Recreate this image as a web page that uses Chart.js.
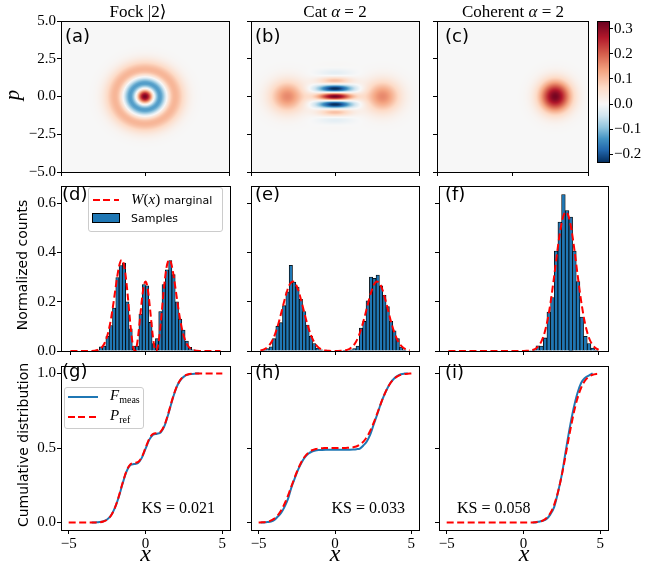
<!DOCTYPE html>
<html>
<head>
<meta charset="utf-8">
<script src="https://cdn.jsdelivr.net/npm/chart.js@4.4.1/dist/chart.umd.min.js"></script>
<style>
html,body{margin:0;padding:0;background:#fff;}
#fig{position:relative;width:647px;height:573px;background:#fff;overflow:hidden;}
#fig canvas{position:absolute;}
.t{position:absolute;white-space:nowrap;line-height:1;color:#000;}
.serif{font-family:'Liberation Serif','DejaVu Serif',serif;}
.sans{font-family:'DejaVu Sans','Liberation Sans',sans-serif;}
.box{position:absolute;box-sizing:border-box;}
</style>
</head>
<body>
<div id="fig"></div>
<script>
// ---------------- DATA ----------------
// Wigner-function profiles
const fockR = [0,0.1,0.2,0.3,0.4,0.5,0.6,0.7,0.8,0.9,1.0,1.1,1.2,1.3,1.4,1.5,1.6,1.7,1.8,1.9,2.0,2.1,2.2,2.3,2.4,2.5,2.6,2.7,2.8,2.9,3.0,3.2,3.4,3.6,3.8,4.0];
const fockW = [0.3183,0.3026,0.2579,0.1909,0.1115,0.0310,-0.0402,-0.0936,-0.1243,-0.1314,-0.1171,-0.0866,-0.0462,-0.0028,0.0378,0.0713,0.0951,0.1086,0.1126,0.1087,0.0991,0.0861,0.0717,0.0575,0.0445,0.0333,0.0241,0.0170,0.0116,0.0077,0.0050,0.0019,0.0007,0.0002,0.0001,0];
const lobeR = [0,0.1,0.2,0.3,0.4,0.5,0.6,0.7,0.8,0.9,1.0,1.1,1.2,1.3,1.4,1.5,1.6,1.7,1.8,1.9,2.0,2.2,2.4,2.6,3.0];
const cohW = [0.3183,0.3151,0.3058,0.2909,0.2712,0.2479,0.2221,0.1950,0.1678,0.1416,0.1171,0.0949,0.0754,0.0587,0.0448,0.0336,0.0246,0.0177,0.0125,0.0086,0.0058,0.0025,0.0010,0.0004,0];
const cohCenter = [2.83, 0];
const catLobeW = [0.1592,0.1576,0.1529,0.1455,0.1356,0.1240,0.1111,0.0975,0.0839,0.0708,0.0586,0.0475,0.0377,0.0294,0.0224,0.0168,0.0123,0.0089,0.0063,0.0043,0.0029,0.0013,0.0005,0.0002,0];
const catLobeCenters = [-2.83, 2.83];
const catFringeP = [0,0.05,0.1,0.15,0.2,0.25,0.3,0.35,0.4,0.45,0.5,0.55,0.6,0.65,0.7,0.75,0.8,0.85,0.9,0.95,1.0,1.05,1.1,1.15,1.2,1.25,1.3,1.35,1.4,1.45,1.5,1.55,1.6,1.65,1.7,1.75,1.8,1.85,1.9,1.95,2.0,2.1,2.2,2.3,2.4,2.5];
const catFringe = [0.3183,0.3049,0.2660,0.2057,0.1301,0.0466,-0.0367,-0.1120,-0.1728,-0.2149,-0.2358,-0.2350,-0.2151,-0.1793,-0.1335,-0.0828,-0.0315,0.0148,0.0524,0.0792,0.0949,0.0995,0.0948,0.0827,0.0657,0.0470,0.0282,0.0111,-0.0029,-0.0133,-0.0198,-0.0228,-0.0229,-0.0208,-0.0174,-0.0132,-0.0091,-0.0052,-0.0021,0.0001,0.0018,0.0030,0.0025,0.0014,0.0005,0];
const catEnvX = [0,0.1,0.2,0.3,0.4,0.5,0.6,0.7,0.8,0.9,1.0,1.1,1.2,1.3,1.4,1.5,1.6,1.7,1.8,1.9,2.0,2.2,2.4,2.6,3.0];
const catEnv = [1,0.990,0.961,0.914,0.852,0.779,0.698,0.613,0.527,0.445,0.368,0.298,0.237,0.185,0.141,0.105,0.077,0.056,0.039,0.027,0.018,0.008,0.003,0.001,0];
const cbRange = [-0.231, 0.331];

// Histograms (bin centres, normalized counts)
const fockHistX = [-3.19,-2.97,-2.75,-2.53,-2.31,-2.09,-1.87,-1.65,-1.43,-1.21,-0.99,-0.77,-0.55,-0.33,-0.11,0.11,0.33,0.55,0.77,0.99,1.21,1.43,1.65,1.87,2.09,2.31,2.53,2.75,2.97,3.19];
const fockHistY = [0.004,0.017,0.02,0.06,0.103,0.174,0.298,0.347,0.357,0.2,0.09,0.02,0.02,0.15,0.27,0.265,0.116,0.03,0.05,0.16,0.27,0.33,0.367,0.31,0.2,0.13,0.085,0.04,0.015,0.005];
const catHistX = [-4.752,-4.528,-4.304,-4.08,-3.856,-3.632,-3.408,-3.184,-2.96,-2.736,-2.512,-2.288,-2.064,-1.84,-1.616,-1.392,-1.168,-0.944,-0.72,-0.496,-0.272,-0.048,0.176,0.4,0.624,0.848,1.072,1.296,1.52,1.744,1.968,2.192,2.416,2.64,2.864,3.088,3.312,3.536,3.76,3.984,4.208,4.432,4.656];
const catHistY = [0.004,0.01,0.017,0.05,0.1,0.115,0.184,0.24,0.348,0.28,0.26,0.21,0.16,0.105,0.06,0.03,0.012,0.005,0.002,0.001,0,0,0,0,0.001,0.002,0.005,0.01,0.02,0.093,0.12,0.204,0.30,0.295,0.308,0.265,0.226,0.18,0.12,0.082,0.05,0.016,0.005];
const cohHistX = [0.464,0.708,0.952,1.196,1.44,1.684,1.928,2.172,2.416,2.66,2.904,3.148,3.392,3.636,3.88,4.124,4.368,4.612,4.856];
const cohHistY = [0.002,0.005,0.021,0.02,0.053,0.158,0.217,0.406,0.524,0.635,0.57,0.544,0.406,0.282,0.138,0.06,0.03,0.012,0.004];

// W(x) marginal curves
const fockMargX = [-5,-4.5,-4,-3.6,-3.4,-3.2,-3,-2.9,-2.8,-2.7,-2.6,-2.5,-2.4,-2.3,-2.2,-2.1,-2,-1.9,-1.8,-1.7,-1.6,-1.5,-1.4,-1.3,-1.2,-1.1,-1,-0.9,-0.8,-0.7,-0.6,-0.5,-0.4,-0.3,-0.2,-0.1,0,0.1,0.2,0.3,0.4,0.5,0.6,0.7,0.8,0.9,1,1.1,1.2,1.3,1.4,1.5,1.6,1.7,1.8,1.9,2,2.1,2.2,2.3,2.4,2.5,2.6,2.7,2.8,2.9,3,3.2,3.4,3.6,4,4.5,5];
const fockMargY = [0,0,0,0.0004,0.0013,0.0038,0.0101,0.0157,0.0239,0.0355,0.0513,0.0720,0.0984,0.1305,0.1680,0.2097,0.2532,0.2952,0.3317,0.3582,0.3701,0.3642,0.3389,0.2948,0.2362,0.1696,0.1038,0.0482,0.0117,0.0001,0.0154,0.0549,0.1111,0.1733,0.2294,0.2682,0.2821,0.2682,0.2294,0.1733,0.1111,0.0549,0.0154,0.0001,0.0117,0.0482,0.1038,0.1696,0.2362,0.2948,0.3389,0.3642,0.3701,0.3582,0.3317,0.2952,0.2532,0.2097,0.1680,0.1305,0.0984,0.0720,0.0513,0.0355,0.0239,0.0157,0.0101,0.0038,0.0013,0.0004,0,0,0];
const margX = [-5,-4.8,-4.6,-4.4,-4.2,-4,-3.8,-3.6,-3.4,-3.2,-3,-2.8,-2.6,-2.4,-2.2,-2,-1.8,-1.6,-1.4,-1.2,-1,-0.8,-0.6,-0.4,-0.2,0,0.2,0.4,0.6,0.8,1,1.2,1.4,1.6,1.8,2,2.2,2.4,2.6,2.8,3,3.2,3.4,3.6,3.8,4,4.2,4.4,4.6,4.8,5];
const catMargY = [0.0025,0.0058,0.0122,0.0238,0.0429,0.0714,0.1097,0.1554,0.2034,0.2457,0.2739,0.2819,0.2678,0.2349,0.1902,0.1421,0.0981,0.0625,0.0367,0.0199,0.0100,0.0046,0.0020,0.0008,0.0003,0.0002,0.0003,0.0008,0.0020,0.0046,0.0100,0.0199,0.0367,0.0625,0.0981,0.1421,0.1902,0.2349,0.2678,0.2819,0.2739,0.2457,0.2034,0.1554,0.1097,0.0714,0.0429,0.0238,0.0122,0.0058,0.0025];
const cohMargY = [0,0,0,0,0,0,0,0,0,0,0,0,0,0,0,0,0,0,0,0,0,0,0,0,0,0.0002,0.0006,0.0016,0.0039,0.0092,0.0200,0.0398,0.0734,0.1249,0.1961,0.2842,0.3803,0.4698,0.5356,0.5638,0.5477,0.4913,0.4068,0.3109,0.2194,0.1429,0.0859,0.0477,0.0244,0.0116,0.0050];

// Cumulative distributions
const cdfX = [-5,-4.75,-4.5,-4.25,-4,-3.75,-3.5,-3.25,-3,-2.75,-2.5,-2.25,-2,-1.75,-1.5,-1.25,-1,-0.75,-0.5,-0.25,0,0.25,0.5,0.75,1,1.25,1.5,1.75,2,2.25,2.5,2.75,3,3.25,3.5,3.75,4,4.25,4.5,4.75,5];
const fockRefCdf = [0,0,0,0,0,0,0,0.0005,0.002,0.007,0.019,0.046,0.096,0.172,0.262,0.343,0.389,0.400,0.405,0.437,0.5,0.563,0.595,0.600,0.611,0.657,0.738,0.828,0.904,0.954,0.981,0.993,0.998,0.9995,1,1,1,1,1,1,1];
const catRefCdf = [0.0005,0.0016,0.0045,0.0111,0.0244,0.0481,0.0855,0.1377,0.202,0.272,0.339,0.3965,0.4396,0.468,0.4849,0.4936,0.4976,0.4992,0.4998,0.5,0.5,0.5,0.5002,0.5008,0.5024,0.5064,0.5151,0.532,0.5604,0.6035,0.661,0.728,0.798,0.8623,0.9145,0.9519,0.9756,0.9889,0.9955,0.9984,0.9995];
const cohRefCdf = [0,0,0,0,0,0,0,0,0,0,0,0,0,0,0,0,0,0,0,0,0,0,0,0.0017,0.0049,0.0128,0.0302,0.0637,0.1208,0.207,0.3213,0.4562,0.596,0.7247,0.829,0.9039,0.9512,0.9778,0.991,0.9967,0.9989];
const fockMeasX = [-3.5,-3.25,-3,-2.75,-2.5,-2.25,-2,-1.75,-1.5,-1.25,-1,-0.75,-0.5,-0.25,0,0.25,0.5,0.75,1,1.25,1.5,1.75,2,2.25,2.5,2.75,3,3.25,3.5];
const fockMeasCdf = [0,0.001,0.003,0.008,0.02,0.047,0.097,0.168,0.258,0.338,0.384,0.392,0.398,0.432,0.494,0.556,0.59,0.596,0.606,0.651,0.732,0.824,0.902,0.952,0.979,0.992,0.997,0.999,1.0];
const catMeasX = [-4.864,-4.64,-4.416,-4.192,-3.968,-3.744,-3.52,-3.296,-3.072,-2.848,-2.624,-2.4,-2.176,-1.952,-1.728,-1.504,-1.28,-1.056,-0.832,-0.608,-0.384,0.512,0.736,0.96,1.184,1.408,1.632,1.856,2.08,2.304,2.528,2.752,2.976,3.2,3.424,3.648,3.872,4.096,4.32,4.544,4.768];
const catMeasCdf = [0,0.0009,0.0031,0.0069,0.018,0.0403,0.0659,0.1068,0.1602,0.2376,0.2999,0.3577,0.4045,0.440,0.4634,0.4768,0.4834,0.4861,0.4872,0.4877,0.4879,0.4879,0.4881,0.4886,0.4897,0.4919,0.4963,0.517,0.5437,0.589,0.656,0.7215,0.790,0.849,0.899,0.939,0.966,0.984,0.995,0.999,1.0];
const cohMeasX = [0.6,0.75,1.0,1.25,1.5,1.75,2.0,2.25,2.5,2.75,3.0,3.25,3.5,3.75,4.0,4.25,4.5];
const cohMeasCdf = [0,0.001,0.006,0.012,0.024,0.055,0.105,0.205,0.325,0.48,0.63,0.76,0.864,0.936,0.97,0.986,1.0];

// Tick values
const heatXTicks = [-5,0,5];
const heatYTicks = [-5,-2.5,0,2.5,5];
const xTicks = [-5,0,5];
const histYTicks = [0,0.2,0.4,0.6];
const cdfYTicks = [0,0.5,1];
const cbTicks = [-0.2,-0.1,0,0.1,0.2,0.3];
const ksValues = ['0.021','0.033','0.058'];

// ---------------- LAYOUT / STYLE ----------------
const AREAS = {
  a:{l:61,t:21,r:229,b:172}, b:{l:251,t:21,r:419,b:172}, c:{l:437,t:21,r:588,b:172},
  cb:{l:597,t:21,r:609,b:172},
  d:{l:61,t:180,r:230,b:351}, e:{l:251,t:180,r:419,b:351}, f:{l:439,t:180,r:608,b:351},
  g:{l:61,t:360,r:230,b:530}, h:{l:251,t:360,r:419,b:530}, i:{l:439,t:360,r:608,b:530}
};
const BLUE = '#1f77b4', RED = '#ff0000';
const RDBU_R = [[5,48,97],[33,102,172],[67,147,195],[146,197,222],[209,229,240],[247,247,247],[253,219,199],[244,165,130],[214,96,77],[178,24,43],[103,0,31]];

Chart.defaults.font.family = "'Liberation Serif','DejaVu Serif',serif";
Chart.defaults.font.size = 15;
Chart.defaults.color = '#000';

const fig = document.getElementById('fig');
const zip = (xs, ys) => xs.map((x, i) => ({x: x, y: ys[i]}));
const fmt = d => v => (v < 0 ? '\u2212' : '') + Math.abs(v).toFixed(d);

function interp(xs, ys, v) {
  const n = xs.length;
  if (v <= xs[0]) return ys[0];
  if (v >= xs[n-1]) return ys[n-1];
  let lo = 0, hi = n - 1;
  while (hi - lo > 1) { const m = (lo + hi) >> 1; if (xs[m] <= v) lo = m; else hi = m; }
  const t = (v - xs[lo]) / (xs[hi] - xs[lo]);
  return ys[lo] + t * (ys[hi] - ys[lo]);
}
// two-slope normalisation centred on zero
function colorFor(v) {
  let t = v < 0 ? 0.5 * (v - cbRange[0]) / (0 - cbRange[0]) : 0.5 + 0.5 * v / cbRange[1];
  t = Math.max(0, Math.min(1, t)) * 10;
  const i = Math.min(9, Math.floor(t)), f = t - i;
  const a = RDBU_R[i], b = RDBU_R[i+1];
  return [a[0]+(b[0]-a[0])*f, a[1]+(b[1]-a[1])*f, a[2]+(b[2]-a[2])*f];
}
const fockField = (x, p) => interp(fockR, fockW, Math.hypot(x, p));
const cohField = (x, p) => interp(lobeR, cohW, Math.hypot(x - cohCenter[0], p - cohCenter[1]));
const catField = (x, p) => {
  let s = 0;
  for (const cx of catLobeCenters) s += interp(lobeR, catLobeW, Math.hypot(x - cx, p));
  return s + interp(catEnvX, catEnv, Math.abs(x)) * interp(catFringeP, catFringe, Math.abs(p));
};

function heatPlugin(field) {
  return { id: 'heat', beforeDatasetsDraw(chart) {
    const a = chart.chartArea, xs = chart.scales.x, ys = chart.scales.y;
    const L = Math.round(a.left), T = Math.round(a.top);
    const w = Math.round(a.right) - L, h = Math.round(a.bottom) - T;
    const off = document.createElement('canvas'); off.width = w; off.height = h;
    const octx = off.getContext('2d'); const img = octx.createImageData(w, h);
    for (let j = 0; j < h; j++) {
      const p = ys.getValueForPixel(T + j + 0.5);
      for (let i = 0; i < w; i++) {
        const x = xs.getValueForPixel(L + i + 0.5);
        const c = colorFor(field(x, p)); const k = (j * w + i) * 4;
        img.data[k] = c[0]; img.data[k+1] = c[1]; img.data[k+2] = c[2]; img.data[k+3] = 255;
      }
    }
    octx.putImageData(img, 0, 0);
    chart.ctx.drawImage(off, L, T);
  }};
}
const colorbarPlugin = { id: 'cbar', beforeDatasetsDraw(chart) {
  const a = chart.chartArea, ys = chart.scales.y, ctx = chart.ctx;
  for (let y = Math.round(a.top); y < Math.round(a.bottom); y++) {
    const c = colorFor(ys.getValueForPixel(y + 0.5));
    ctx.fillStyle = 'rgb(' + c.map(Math.round).join(',') + ')';
    ctx.fillRect(a.left, y, a.right - a.left, 1);
  }
}};
const framePlugin = { id: 'frame', afterDraw(chart) {
  const a = chart.chartArea, ctx = chart.ctx;
  ctx.save(); ctx.strokeStyle = '#000'; ctx.lineWidth = 1;
  ctx.strokeRect(Math.round(a.left) + 0.5, Math.round(a.top) + 0.5, Math.round(a.right - a.left), Math.round(a.bottom - a.top));
  ctx.restore();
}};

function axis(min, max, ticks, size, labelFmt, extra) {
  return Object.assign({
    type: 'linear', min: min, max: max, offset: false,
    afterBuildTicks: ax => { ax.ticks = ticks.map(v => ({value: v})); },
    afterFit: ax => { if (ax.isHorizontal()) ax.height = size; else ax.width = size; },
    grid: { display: true, drawOnChartArea: false, drawTicks: true, tickLength: 4, tickColor: '#000', tickWidth: 1, color: '#000', offset: false },
    border: { display: false },
    ticks: { autoSkip: false, maxRotation: 0, minRotation: 0, padding: 1, color: '#000',
             callback: labelFmt ? (v => labelFmt(v)) : (() => '') }
  }, extra || {});
}

function panel(area, pad, config) {
  const W = pad.L + (area.r - area.l) + pad.R;
  const H = pad.T + (area.b - area.t) + pad.B;
  const c = document.createElement('canvas');
  c.width = W; c.height = H;
  c.style.left = (area.l - pad.L) + 'px'; c.style.top = (area.t - pad.T) + 'px';
  c.style.width = W + 'px'; c.style.height = H + 'px';
  fig.appendChild(c);
  config.options = Object.assign({
    responsive: false, animation: false, devicePixelRatio: 1,
    layout: { padding: { left: 0, top: pad.T, right: pad.R, bottom: 0 } },
    plugins: { legend: { display: false }, tooltip: { enabled: false } }
  }, config.options);
  config.plugins = (config.plugins || []).concat([framePlugin]);
  return new Chart(c, config);
}

// ---------------- TOP ROW: Wigner functions ----------------
const heatFields = [fockField, catField, cohField];
['a','b','c'].forEach((k, i) => {
  panel(AREAS[k], {L: i === 0 ? 61 : 12, R: 4, T: 12, B: 12}, {
    type: 'scatter', data: { datasets: [] },
    options: { scales: {
      x: axis(-5, 5, heatXTicks, 12, null),
      y: axis(-5, 5, heatYTicks, i === 0 ? 61 : 12, i === 0 ? fmt(1) : null)
    }},
    plugins: [heatPlugin(heatFields[i])]
  });
});
// colorbar
panel(AREAS.cb, {L: 0, R: 40, T: 12, B: 0}, {
  type: 'scatter', data: { datasets: [] },
  options: {
    layout: { padding: { left: 0, top: 12, right: 0, bottom: 0 } },
    scales: {
      x: { type: 'linear', display: false, min: 0, max: 1 },
      y: axis(cbRange[0], cbRange[1], cbTicks, 40, fmt(1), { position: 'right' })
    }
  },
  plugins: [colorbarPlugin]
});

// ---------------- MIDDLE ROW: histograms ----------------
const hists = [[fockHistX, fockHistY, fockMargX, fockMargY], [catHistX, catHistY, margX, catMargY], [cohHistX, cohHistY, margX, cohMargY]];
['d','e','f'].forEach((k, i) => {
  const hd = hists[i];
  panel(AREAS[k], {L: i === 0 ? 61 : 12, R: 4, T: 4, B: 10}, {
    type: 'bar',
    data: { datasets: [
      { type: 'line', data: zip(hd[2], hd[3]), borderColor: RED, borderWidth: 2, borderDash: [7, 3.5], pointRadius: 0, cubicInterpolationMode: 'monotone', order: 0 },
      { type: 'bar', data: zip(hd[0], hd[1]), backgroundColor: BLUE, borderColor: '#000', borderWidth: 0.8, borderSkipped: 'start', categoryPercentage: 1, barPercentage: 1, order: 1 }
    ]},
    options: { scales: {
      x: axis(-5.63, 5.63, xTicks, 10, null),
      y: axis(0, 0.67, histYTicks, i === 0 ? 61 : 12, i === 0 ? fmt(1) : null)
    }}
  });
});

// ---------------- BOTTOM ROW: CDFs ----------------
const cdfs = [[fockRefCdf, fockMeasX, fockMeasCdf], [catRefCdf, catMeasX, catMeasCdf], [cohRefCdf, cohMeasX, cohMeasCdf]];
['g','h','i'].forEach((k, i) => {
  const cd = cdfs[i];
  panel(AREAS[k], {L: i === 0 ? 61 : 12, R: 4, T: 4, B: 26}, {
    type: 'line',
    data: { datasets: [
      { data: zip(cdfX, cd[0]), borderColor: RED, borderWidth: 2, borderDash: [7, 3.5], pointRadius: 0, cubicInterpolationMode: 'monotone', order: 0 },
      { data: zip(cd[1], cd[2]), borderColor: BLUE, borderWidth: 2, pointRadius: 0, cubicInterpolationMode: 'monotone', order: 1 }
    ]},
    options: { scales: {
      x: axis(-5.5, 5.5, xTicks, 26, fmt(0)),
      y: axis(-0.05, 1.05, cdfYTicks, i === 0 ? 61 : 12, i === 0 ? fmt(1) : null)
    }}
  });
});

// ---------------- TEXT OVERLAYS ----------------
function txt(html, style, cls) {
  const d = document.createElement('div');
  d.className = 't ' + (cls || '');
  d.innerHTML = html;
  Object.assign(d.style, style);
  fig.appendChild(d);
  return d;
}
function box(style) {
  const d = document.createElement('div');
  d.className = 'box';
  Object.assign(d.style, style);
  fig.appendChild(d);
  return d;
}
// titles
txt('Fock |2\u27E9', {left: '138px', top: '2.5px', fontSize: '17px', transform: 'translateX(-50%)'}, 'serif');
txt('Cat <i>\u03B1</i> = 2', {left: '335px', top: '2.5px', fontSize: '17px', transform: 'translateX(-50%)'}, 'serif');
txt('Coherent <i>\u03B1</i> = 2', {left: '513px', top: '2.5px', fontSize: '17px', transform: 'translateX(-50%)'}, 'serif');
// axis labels
txt('<i>p</i>', {left: '12px', top: '95px', fontSize: '21px', transform: 'translate(-50%,-50%) rotate(-90deg)'}, 'serif');
txt('Normalized counts', {left: '22px', top: '265px', fontSize: '14px', transform: 'translate(-50%,-50%) rotate(-90deg)'}, 'sans');
txt('Cumulative distribution', {left: '23px', top: '445px', fontSize: '14px', transform: 'translate(-50%,-50%) rotate(-90deg)'}, 'sans');
[145.5, 335, 524].forEach(cx => txt('<i>x</i>', {left: cx + 'px', top: '541px', fontSize: '24px', transform: 'translateX(-50%)'}, 'serif'));
// panel labels
const panelLabels = [['(a)',65,26.5],['(b)',255,26.5],['(c)',445,26.5],['(d)',62,185],['(e)',255,185],['(f)',445,185],['(g)',62,362],['(h)',255,363],['(i)',445,363]];
panelLabels.forEach(p => txt(p[0], {left: p[1] + 'px', top: p[2] + 'px', fontSize: '18px'}, 'sans'));
// KS annotations
txt('KS = ' + ksValues[0], {right: (647 - 215) + 'px', top: '500px', fontSize: '16px'}, 'serif');
txt('KS = ' + ksValues[1], {right: (647 - 405) + 'px', top: '500px', fontSize: '16px'}, 'serif');
txt('KS = ' + ksValues[2], {left: '457px', top: '500px', fontSize: '16px'}, 'serif');
// legend (d)
box({left: '88px', top: '187px', width: '135px', height: '45px', background: 'rgba(255,255,255,0.8)', border: '1px solid #cccccc', borderRadius: '3px'});
box({left: '93px', top: '199px', width: '26px', height: '2px', background: 'repeating-linear-gradient(to right,' + RED + ' 0 7px,transparent 7px 10.5px)'});
txt('<i>W</i>(<i>x</i>)<span class="sans" style="font-size:11px"> marginal</span>', {left: '131px', top: '191.5px', fontSize: '15px'}, 'serif');
box({left: '92px', top: '213px', width: '28px', height: '10px', background: BLUE, border: '1px solid #000'});
txt('Samples', {left: '131px', top: '212.5px', fontSize: '11px'}, 'sans');
// legend (g)
box({left: '64px', top: '387px', width: '80px', height: '42px', background: 'rgba(255,255,255,0.8)', border: '1px solid #cccccc', borderRadius: '3px'});
box({left: '68px', top: '396px', width: '30px', height: '2px', background: BLUE});
txt('<i>F</i><span style="font-size:10px;position:relative;top:3px">meas</span>', {left: '110px', top: '387.5px', fontSize: '15px'}, 'serif');
box({left: '68px', top: '416px', width: '30px', height: '2px', background: 'repeating-linear-gradient(to right,' + RED + ' 0 7px,transparent 7px 10.5px)'});
txt('<i>P</i><span style="font-size:10px;position:relative;top:3px">ref</span>', {left: '110px', top: '407.5px', fontSize: '15px'}, 'serif');
</script>
</body>
</html>
